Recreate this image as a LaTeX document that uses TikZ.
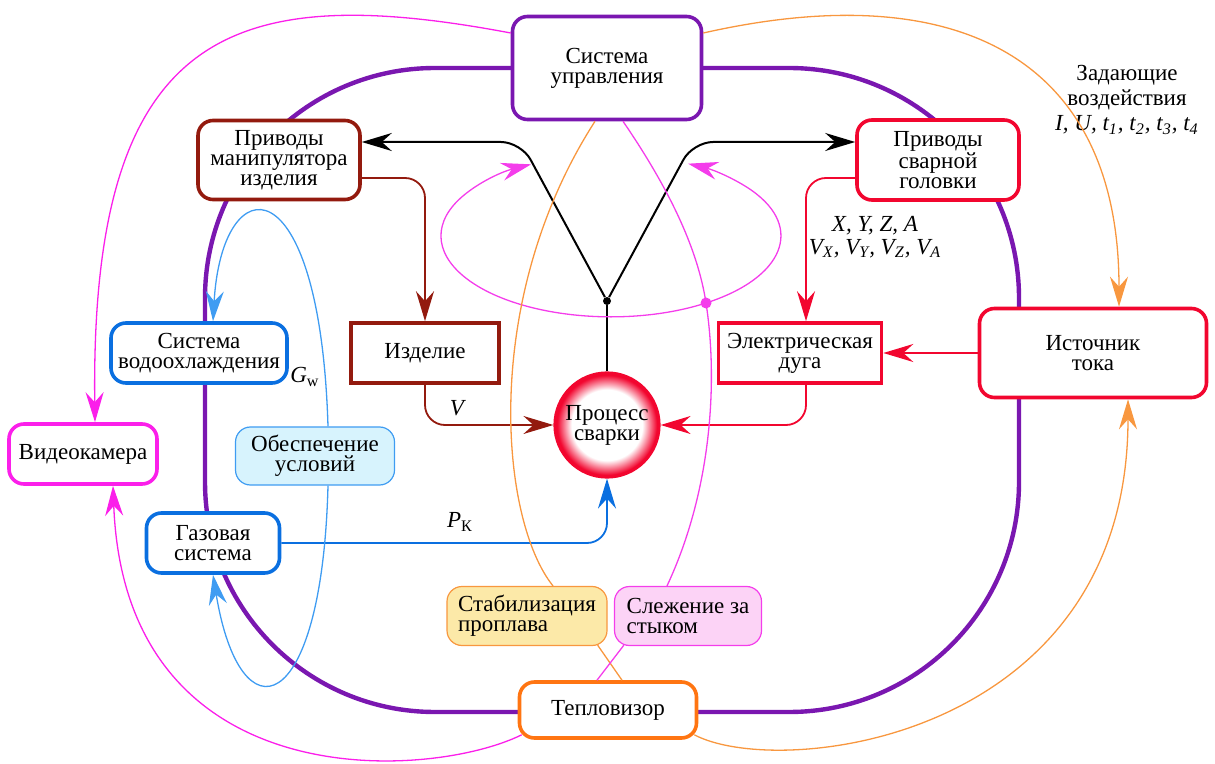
\documentclass[tikz,border=0pt]{standalone}
\usepackage{fontspec}
\setmainfont{Liberation Serif}
\usetikzlibrary{arrows.meta,backgrounds}
\definecolor{CtrlPurple}{HTML}{7A17B0}
\definecolor{ManipRed}{HTML}{931A0E}
\definecolor{HeadRed}{HTML}{F2062F}
\definecolor{CoolBlue}{HTML}{0A6FE0}
\definecolor{CondLine}{HTML}{3F9CF2}
\definecolor{CondFill}{HTML}{D7F3FD}
\definecolor{CamMagenta}{HTML}{FB1FEA}
\definecolor{TrackLine}{HTML}{F43DEB}
\definecolor{TrackFill}{HTML}{FCD3F6}
\definecolor{ThermOrange}{HTML}{FF7512}
\definecolor{WireOrange}{HTML}{F8973F}
\definecolor{StabFill}{HTML}{FCE9A8}
\pgfdeclareradialshading{weldglow}{\pgfpoint{0bp}{0bp}}{color(0bp)=(white); color(17bp)=(white); color(24bp)=(HeadRed); color(50bp)=(HeadRed)}

\begin{document}
\begin{tikzpicture}[
    x=0.5pt, y=-0.5pt,
    font=\fontsize{11.5}{10}\selectfont,
    box/.style={draw, rounded corners=7.5pt, line width=1.8pt, fill=white, align=center, inner sep=1pt},
    plainbox/.style={draw, line width=1.8pt, fill=white, align=center, inner sep=1pt},
    softbox/.style={draw, rounded corners=7.5pt, line width=0.6pt, align=left, inner sep=1pt},
    arrow/.style={-{Stealth[length=15pt,width=9pt,inset=5pt]}, line width=0.9pt, rounded corners=10pt},
    wire/.style={line width=0.65pt},
    ring/.style={line width=2.2pt, draw=CtrlPurple},
    dot/.style={circle, fill, inner sep=0pt, minimum size=4pt}
  ]
    \useasboundingbox (0,0) rectangle (1215,764);
    \node[box, draw=CtrlPurple, minimum width=94.5pt, minimum height=51.5pt] (ctrl) at (607,68) {Система\\управления};
    \node[box, draw=ManipRed, minimum width=81pt, minimum height=39.5pt] (manip) at (279,160) {Приводы\\манипулятора\\изделия};
    \node[box, draw=HeadRed, minimum width=81pt, minimum height=40pt] (head) at (938,160) {Приводы\\сварной\\головки};
    \node[box, draw=CoolBlue, minimum width=88pt, minimum height=30pt] (cool) at (199,353) {Система\\водоохлаждения};
    \node[plainbox, draw=ManipRed, minimum width=74pt, minimum height=30pt] (work) at (425,353) {Изделие};
    \node[plainbox, draw=HeadRed, minimum width=81.5pt, minimum height=30pt] (spark) at (800,353) {Электрическая\\дуга};
    \node[box, draw=HeadRed, minimum width=113.5pt, minimum height=44.5pt] (source) at (1093,353) {Источник\\тока};
    \node[circle, shade, shading=weldglow, draw=HeadRed, line width=1.6pt, minimum size=52pt, inner sep=0pt, align=center] (weld) at (607,425) {Процесс\\сварки};
    \node[box, draw=CamMagenta, minimum width=74pt, minimum height=30pt] (camera) at (83,454) {Видеокамера};
    \node[softbox, draw=CondLine, fill=CondFill, align=center, minimum width=79.5pt, minimum height=29pt] (cond) at (315,456) {Обеспечение\\условий};
    \node[box, draw=CoolBlue, minimum width=66.5pt, minimum height=30pt] (gas) at (213,543) {Газовая\\система};
    \node[softbox, draw=WireOrange, fill=StabFill, minimum width=80pt, minimum height=29.5pt] (stab) at (527,616) {Стабилизация\\проплава};
    \node[softbox, draw=TrackLine, fill=TrackFill, minimum width=73.5pt, minimum height=29.5pt] (track) at (688,616) {Слежение за\\стыком};
    \node[box, draw=ThermOrange, minimum width=88.5pt, minimum height=28pt] (therm) at (608,710) {Тепловизор};
    \node[dot] (jn) at (607,301) {};
    \node[dot, TrackLine, minimum size=5.5pt] (mdot) at (706,303) {};

    \node[align=center, font=\fontsize{11.5}{12.5}\selectfont] (setpts) at (1127,100) {Задающие\\воздействия\\\textit{I, U, t\textsubscript{1}, t\textsubscript{2}, t\textsubscript{3}, t\textsubscript{4}}};
    \node[align=center, font=\fontsize{11.5}{11.5}\selectfont\itshape] (coords) at (875,237) {X, Y, Z, A\\V\textsubscript{X}, V\textsubscript{Y}, V\textsubscript{Z}, V\textsubscript{A}};
    \node (gw) at (305,377) {\textit{G}\textsubscript{w}};
    \node (vlab) at (458,408) {\textit{V}};
    \node (pk) at (460,522) {\textit{P}\textsubscript{К}};

    \begin{scope}[on background layer]
      \draw[ring, rounded corners=115pt] (205,68) rectangle (1019,712);
    \end{scope}

    \draw[line width=1pt] (weld.north) -- (jn);
    \draw[arrow, line width=1pt] (jn) -- ++(-86,-159) -- ([yshift=9pt]manip.east);
    \draw[arrow, line width=1pt] (jn) -- ++(86,-159) -- ([yshift=9pt]head.west);
    \draw[arrow, ManipRed] ([yshift=-9pt]manip.east) -| (work.north);
    \draw[arrow, ManipRed] (work.south) |- (weld.west);
    \draw[arrow, HeadRed] ([yshift=-9pt]head.west) -| ([xshift=3pt]spark.north);
    \draw[arrow, HeadRed] (source.west) -- (spark.east);
    \draw[arrow, HeadRed] ([xshift=3pt]spark.south) |- (weld.east);
    \draw[arrow, CoolBlue] (gas.east) -| (weld.south);

    \draw[arrow, wire, TrackLine] (mdot) arc[start angle=56, end angle=-63, x radius=170, y radius=81];
    \draw[arrow, wire, TrackLine] (mdot) arc[start angle=56, end angle=242, x radius=170, y radius=81];
    \draw[wire, TrackLine] ([xshift=8pt]ctrl.south) .. controls (670,190) and (698,250) .. (mdot.center)
      .. controls (718,380) and (712,490) .. ([xshift=-10.5pt]track.north);
    \draw[wire, WireOrange] ([xshift=-6pt]ctrl.south) .. controls (480,300) and (500,520) .. ([xshift=13pt]stab.north);
    \draw[wire, WireOrange] ([xshift=-5pt,yshift=0.5pt]stab.south east) -- ([xshift=7pt]therm.north);
    \draw[wire, TrackLine] ([xshift=5pt,yshift=0.5pt]track.south west) -- ([xshift=-5.5pt]therm.north);

    \draw[arrow, wire, CamMagenta] ([yshift=17.5pt]ctrl.west) .. controls (230,-20) and (90,30) .. ([xshift=6pt]camera.north);
    \draw[arrow, wire, CamMagenta] ([xshift=2pt,yshift=2.5pt]therm.south west) .. controls (430,780) and (125,800) .. ([xshift=15pt]camera.south);
    \draw[arrow, wire, WireOrange] ([yshift=17.5pt]ctrl.east) .. controls (960,-25) and (1119,60) .. ([xshift=13pt]source.north);
    \draw[arrow, wire, WireOrange] ([xshift=-2pt,yshift=2.5pt]therm.south east) .. controls (780,780) and (1128,740) .. ([xshift=17.5pt]source.south);

    \draw[arrow, wire, CondLine] ([xshift=6.5pt]cond.north) .. controls (320,160) and (222,165) .. ([xshift=7pt]cool.north);
    \draw[arrow, wire, CondLine] ([xshift=6.5pt]cond.south) .. controls (322,720) and (240,740) .. (gas.south);
  \end{tikzpicture}
\end{document}
